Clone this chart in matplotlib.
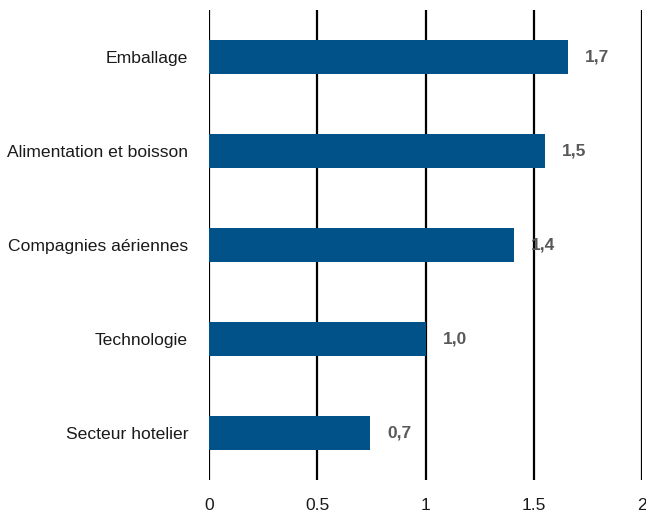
import matplotlib
matplotlib.use("Agg")
import matplotlib.pyplot as plt
from matplotlib import font_manager

categories = ["Emballage", "Alimentation et boisson", "Compagnies aériennes", "Technologie", "Secteur hotelier"]
values = [1.658, 1.552, 1.409, 1.0, 0.744]
value_labels = ["1,7", "1,5", "1,4", "1,0", "0,7"]
xticks = [0, 0.5, 1, 1.5, 2]
xtick_labels = ["0", "0.5", "1", "1.5", "2"]

names = {f.name for f in font_manager.fontManager.ttflist}
fam = ["Liberation Sans Narrow", "Liberation Sans", "DejaVu Sans"]
fam = [f for f in fam if f in names] or ["DejaVu Sans"]
plt.rcParams["font.family"] = fam

fig = plt.figure(figsize=(6.46, 5.15), dpi=100)
ax = fig.add_axes([209/646, 35/515, 433/646, 470/515])

ypos = list(range(len(categories)))
ax.barh(ypos, values, height=0.37, color="#005288", zorder=3)
for y, v, lab in zip(ypos, values, value_labels):
    ax.text(v + 0.08, y, lab, va="center", ha="left", fontsize=12.5, fontweight="bold", color="#595959", zorder=4)

ax.set_xlim(0, 2)
ax.set_ylim(len(categories) - 0.5, -0.5)
ax.set_yticks(ypos)
ax.set_yticklabels(categories, fontsize=12.6, color="#1a1a1a")
ax.set_xticks(xticks)
ax.set_xticklabels(xtick_labels, fontsize=12.6, color="#1a1a1a")
ax.tick_params(axis="both", length=0)
ax.tick_params(axis="y", pad=15)
ax.tick_params(axis="x", pad=13)
for s in ax.spines.values():
    s.set_visible(False)
for x in xticks:
    ax.axvline(x, color="black", lw=1.6, zorder=1)

fig.savefig("out.png", dpi=100)
